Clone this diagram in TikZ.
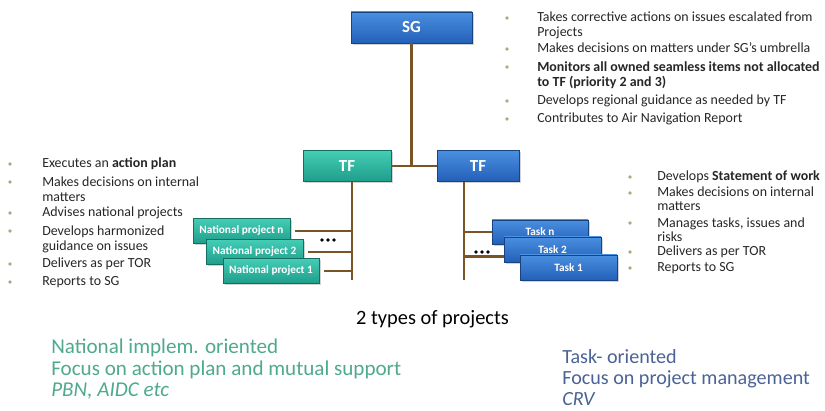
\documentclass[tikz,border=0pt]{standalone}
\usepackage{fontspec}
\setmainfont{Carlito}
\usetikzlibrary{shadows}

\newdimen\px \px=0.025cm
\definecolor{tealtop}{HTML}{45CDB6}
\definecolor{tealbot}{HTML}{1E9E8A}
\definecolor{bluetop}{HTML}{4A8FE0}
\definecolor{bluebot}{HTML}{2360B8}
\definecolor{linkbrown}{HTML}{7A5424}
\definecolor{bulgreen}{HTML}{9BB083}
\definecolor{listgray}{HTML}{262626}
\definecolor{natgreen}{HTML}{4FA98F}
\definecolor{taskblue}{HTML}{4A6296}

\begin{document}
\begin{tikzpicture}[x=\px,y=-\px,
  box/.style={draw=#1, line width=0.4pt, text=white, inner sep=0pt,
    drop shadow={opacity=0.35, shadow xshift=1.2pt, shadow yshift=-1.2pt}},
  tealbox/.style={box=tealbot!70!black, top color=tealtop, bottom color=tealbot},
  bluebox/.style={box=bluebot!70!black, top color=bluetop, bottom color=bluebot},
  headfont/.style={font=\bfseries\fontsize{12}{14}\selectfont},
  subfont/.style={font=\bfseries\fontsize{8}{9}\selectfont},
  link/.style={draw=linkbrown, line width=2pt},
  item/.style={anchor=base west, align=left, inner sep=0pt, text=listgray,
    font=\fontsize{9.9}{11.2}\selectfont},
  bul/.style={fill=bulgreen}]
 \useasboundingbox (0,0) rectangle (825,411);

 % SG and the two task forces
 \node[bluebox, headfont, minimum width=121\px, minimum height=31\px] (sg) at (411.5,27.5) {SG};
 \node[tealbox, headfont, minimum width=88\px, minimum height=31\px] (tfl) at (347,166) {TF};
 \node[bluebox, headfont, minimum width=82\px, minimum height=31\px] (tfr) at (478,166) {TF};
 \coordinate (jn) at (sg |- tfl);
 \draw[link] (sg.south) -- (jn);
 \draw[link] (tfl) -- (tfr);

 % national projects
 \coordinate (lb) at (352,280);
 \draw[link] (tfl.south -| lb) -- (lb);
 \node[tealbox, subfont, minimum width=97\px, minimum height=25\px] (npn) at (241.5,231) {National project n};
 \node[tealbox, subfont, minimum width=97\px, minimum height=25\px] (np2) at (254.5,252) {National project 2};
 \node[tealbox, subfont, minimum width=96\px, minimum height=25\px] (np1) at (271,271) {National project 1};
 \draw[link] ([xshift=3.5pt]npn.east) -- (npn.east -| lb);
 \draw[link] ([xshift=3.5pt]np2.east) -- (np2.east -| lb);
 \draw[link] ([xshift=3.5pt]np1.east) -- (np1.east -| lb);
 \foreach \i in {-6,0,6}
   \fill (328+\i,240) circle (1.3pt);

 % tasks
 \coordinate (rb) at (464,280);
 \draw[link] (tfr.south -| rb) -- (rb);
 \node[bluebox, subfont, minimum width=96\px, minimum height=24\px] (taskn) at (540,232) {Task n};
 \node[bluebox, subfont, minimum width=97\px, minimum height=25\px] (task2) at (552.5,249.5) {Task 2};
 \node[bluebox, subfont, minimum width=97\px, minimum height=25\px] (task1) at (568.5,267.5) {Task 1};
 \draw[link] (taskn.west -| rb) -- (taskn.west);
 \draw[link] ([yshift=-5pt]task2.west -| rb) -- ([yshift=-5pt]task2.west);
 \foreach \i in {-6,0,6}
   \fill (482+\i,252) circle (1.3pt);

 % what SG does (first baseline / last baseline / text)
 \foreach \b/\y/\t [count=\k] in {22/37/{Takes corrective actions on issues escalated from\\Projects},
     53/53/{Makes decisions on matters under SG’s umbrella},
     71/87/{\bfseries Monitors all owned seamless items not allocated\\\bfseries to TF (priority 2 and 3)},
     105/105/{Develops regional guidance as needed by TF},
     123/123/{Contributes to Air Navigation Report}}
 {
   \fill[bul] (507,{\b-4}) circle (1.4pt);
   \node[item] (sgi\k) at (537,\y) {\t};
 }

 % what the left TF does
 \foreach \b/\y/\t [count=\k] in {168/168/{Executes an \textbf{action plan}},
     186/202/{Makes decisions on internal\\matters},
     217/217/{Advises national projects},
     235/251/{Develops harmonized\\guidance on issues},
     268/268/{Delivers as per TOR},
     286/286/{Reports to SG}}
 {
   \fill[bul] (10,{\b-4}) circle (1.4pt);
   \node[item] (tfli\k) at (42,\y) {\t};
 }

 % what the right TF does
 \foreach \b/\y/\t [count=\k] in {181/181/{Develops \textbf{Statement of work}},
     197/211/{Makes decisions on internal\\matters},
     227/242/{Manages tasks, issues and\\risks},
     256/256/{Delivers as per TOR},
     272/272/{Reports to SG}}
 {
   \fill[bul] (630,{\b-4}) circle (1.4pt);
   \node[item, font=\fontsize{9.9}{10.4}\selectfont] (tfri\k) at (657,\y) {\t};
 }

 % the two kinds
 \node[anchor=base, inner sep=0pt, font=\fontsize{14.5}{17}\selectfont] (types) at (432.5,325) {2 types of projects};
 \node[anchor=base west, align=left, inner sep=0pt, text=natgreen, font=\fontsize{15}{15.6}\selectfont] (natl) at (51,397)
   {National implem. oriented\\Focus on action plan and mutual support\\\itshape PBN, AIDC etc};
 \node[anchor=base west, align=left, inner sep=0pt, text=taskblue, font=\fontsize{14.3}{15.2}\selectfont] (taskl) at (562,406)
   {Task- oriented\\Focus on project management\\\itshape CRV};
\end{tikzpicture}
\end{document}
